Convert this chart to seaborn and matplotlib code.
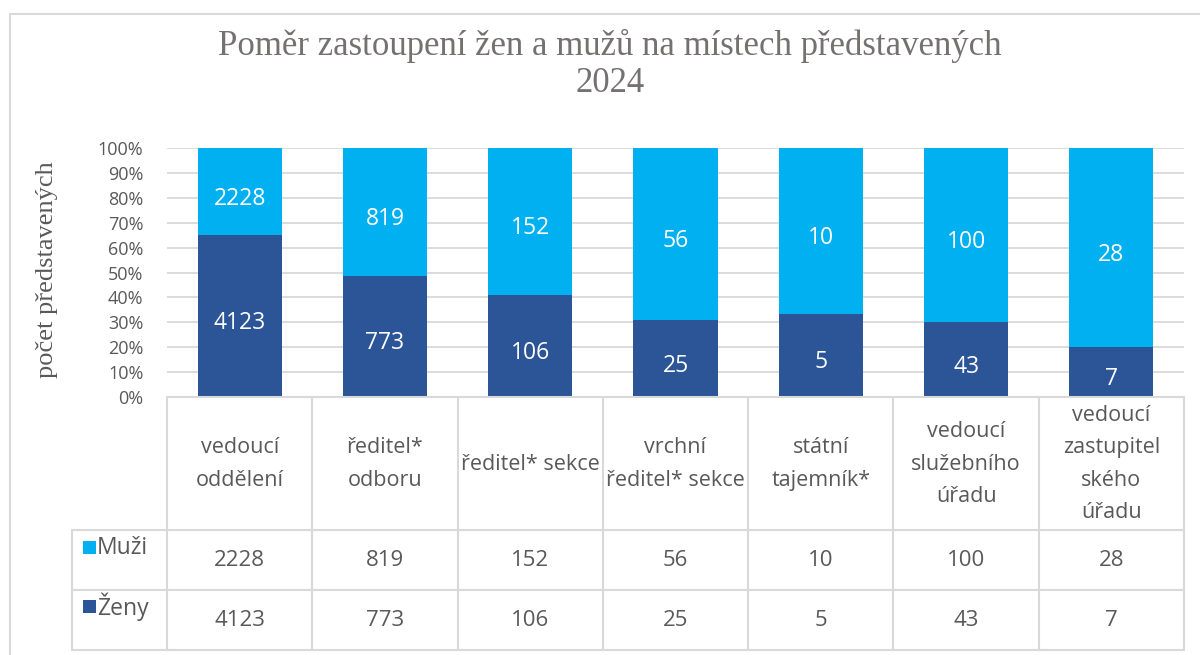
import numpy as np
import pandas as pd
import seaborn as sns
import matplotlib
matplotlib.use("Agg")
import matplotlib.pyplot as plt
from matplotlib.transforms import blended_transform_factory
from matplotlib.lines import Line2D
from matplotlib.patches import Rectangle

# ---- data ----
categories = ["vedoucí\noddělení", "ředitel*\nodboru", "ředitel* sekce",
              "vrchní\nředitel* sekce", "státní\ntajemník*",
              "vedoucí\nslužebního\núřadu", "vedoucí\nzastupitel\nského\núřadu"]
muzi = [2228, 819, 152, 56, 10, 100, 28]
zeny = [4123, 773, 106, 25, 5, 43, 7]
series_names = ["Muži", "Ženy"]
title_lines = ["Poměr zastoupení žen a mužů na místech představených", "2024"]
y_label = "počet představených"
ytick_values = [0, 10, 20, 30, 40, 50, 60, 70, 80, 90, 100]

C_M = "#00B0F0"
C_Z = "#2B5597"
GRID = "#D9D9D9"
TXT = "#595959"

sns.set_theme(style="white")
plt.rcParams['font.family'] = ['Open Sans', 'DejaVu Sans']

W, H = 1200, 655
fig = plt.figure(figsize=(W / 100, H / 100), dpi=100)
fig.patch.set_facecolor("white")

def fx(px):
    return px / W

def fy(py):
    return 1 - py / H

ax = fig.add_axes([fx(167), fy(397), (1184 - 167) / W, (397 - 148) / H])

df = pd.DataFrame({"cat": categories, "muzi": muzi, "zeny": zeny})
df["tot"] = df["muzi"] + df["zeny"]
df["all_pct"] = df["tot"] / df["tot"] * 100
df["zeny_pct"] = df["zeny"] / df["tot"] * 100
df["muzi_pct"] = df["muzi"] / df["tot"] * 100

sns.barplot(data=df, x="cat", y="all_pct", order=categories, color=C_M,
            saturation=1, width=0.58, ax=ax, zorder=3, linewidth=0,
            edgecolor="none")
sns.barplot(data=df, x="cat", y="zeny_pct", order=categories, color=C_Z,
            saturation=1, width=0.58, ax=ax, zorder=3, linewidth=0,
            edgecolor="none")

ax.set_xlim(-0.5, len(categories) - 0.5)
ax.set_ylim(0, 100)
for s in ax.spines.values():
    s.set_visible(False)
ax.set_yticks(ytick_values)
ax.set_yticklabels([f"{v}%" for v in ytick_values])
ax.tick_params(axis="y", length=0, pad=17, labelsize=13, labelcolor=TXT)
ax.set_xticks([])
ax.set_xlabel("")
ax.set_ylabel("")
ax.yaxis.grid(True, color=GRID, lw=1.3)
ax.set_axisbelow(True)

# value labels inside bars
for i, row in df.iterrows():
    ax.annotate(f"{row['muzi']}", (i, row["zeny_pct"] + row["muzi_pct"] / 2),
                xytext=(0, -5), textcoords="offset points",
                ha="center", va="center", color="white", fontsize=16.5, zorder=4)
    ax.annotate(f"{row['zeny']}", (i, row["zeny_pct"] / 2),
                xytext=(0, -5), textcoords="offset points",
                ha="center", va="center", color="white", fontsize=16.5, zorder=4)

# titles
fig.text(fx(610), fy(46), title_lines[0], ha="center", va="center",
         family="Liberation Serif", fontsize=25, color="#767171")
fig.text(fx(610), fy(83), title_lines[1], ha="center", va="center",
         family="Liberation Serif", fontsize=25, color="#767171")
fig.text(fx(47), fy(270), y_label, rotation=90, ha="center", va="center",
         family="Liberation Serif", fontsize=19, color=TXT)

# outer chart border
fig.add_artist(Rectangle((fx(10), fy(675)), (1220 - 10) / W, (675 - 14) / H,
                         transform=fig.transFigure, fill=False,
                         edgecolor=GRID, lw=1.5))

# data table
edges = [ax.transData.transform((i - 0.5, 0))[0] for i in range(len(categories) + 1)]
right = edges[-1]
lines = []
for e in edges:
    lines.append(((e, e), (397, 650)))
lines.append(((72, 72), (530, 650)))
lines.append(((edges[0], right), (397, 397)))
for yy in (530, 590, 650):
    lines.append(((72, right), (yy, yy)))
for (xs, ys) in lines:
    fig.add_artist(Line2D([fx(v) for v in xs], [fy(v) for v in ys],
                          transform=fig.transFigure, color=GRID, lw=1.5))

tr = blended_transform_factory(ax.transData, fig.transFigure)
for i, cat in enumerate(categories):
    ax.text(i, fy(464), cat, transform=tr, ha="center", va="center",
            fontsize=15.5, color=TXT, linespacing=1.72, clip_on=False)
    ax.text(i, fy(560), f"{muzi[i]}", transform=tr, ha="center", va="center",
            fontsize=16, color=TXT, clip_on=False)
    ax.text(i, fy(620), f"{zeny[i]}", transform=tr, ha="center", va="center",
            fontsize=16, color=TXT, clip_on=False)

for name, col, yc in ((series_names[0], C_M, 548), (series_names[1], C_Z, 607)):
    fig.add_artist(Rectangle((fx(83), fy(yc + 6)), 13 / W, 13 / H,
                             transform=fig.transFigure, facecolor=col,
                             edgecolor="none"))
    fig.text(fx(97), fy(yc), name, ha="left", va="center", fontsize=16.5,
             color=TXT)

fig.savefig("out.png", dpi=100, facecolor="white")
